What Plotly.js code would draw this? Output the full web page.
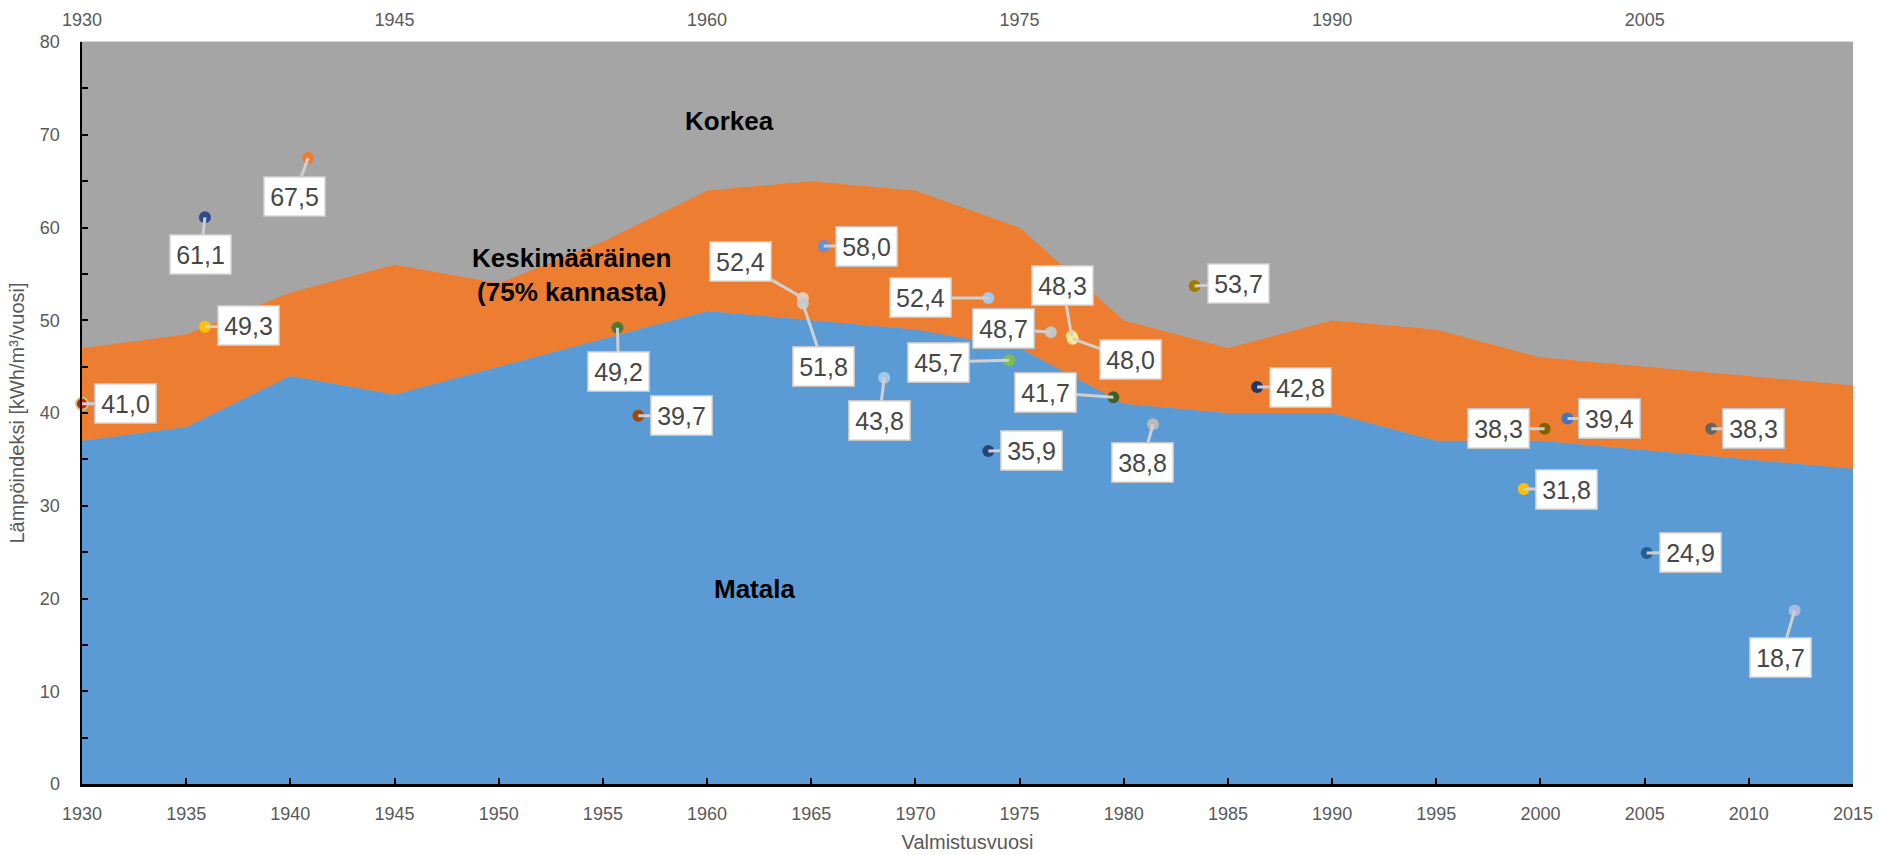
<!DOCTYPE html>
<html>
<head>
<meta charset="utf-8">
<script src="https://cdn.plot.ly/plotly-3.0.1.min.js"></script>
<style>html,body{margin:0;padding:0;background:#fff;}#chart{width:1879px;height:855px;}</style>
</head>
<body>
<div id="chart"></div>
<script>
// ---- data ----
const vuodet = [1930,1935,1940,1945,1950,1955,1960,1965,1970,1975,1980,1985,1990,1995,2000,2005,2010,2015];
const matala = [37,38.5,44,42,45,48,51,50,49,47,41,40,40,37,37,36,35,34];            // Matala upper bound
const keskimaarainenYla = [47,48.5,53,56,54,58.5,64,65,64,60,50,47,50,49,46,45,44,43]; // Keskimääräinen upper bound
const korkeaYla = [80,80,80,80,80,80,80,80,80,80,80,80,80,80,80,80,80,80];            // Korkea upper bound (axis top)

const pisteVuodet = [1930,1935.9,1940.85,1935.9,1955.7,1956.7,1964.6,1964.6,1965.6,1968.5,1973.5,1974.5,1973.5,1976.5,1977.5,1977.55,1979.5,1981.4,1983.4,1986.4,2000.2,2001.3,1999.2,2005.1,2008.2,2012.2];
const pisteArvot = [41.0,61.1,67.5,49.3,49.2,39.7,52.4,51.8,58.0,43.8,52.4,45.7,35.9,48.7,48.3,48.0,41.7,38.8,53.7,42.8,38.3,39.4,31.8,24.9,38.3,18.7];
const pisteVarit = ['#FF0000','#2E4C8C','#ED7D31','#FFC000','#4E7A32','#9E480E','#F6C8AA','#C9C9C9','#698ED0','#A4C8EA','#A4C8EA','#7DBE4E','#264478','#C4C4C4','#FFD966','#FFE699','#3E6226','#B8B8B8','#A07A00','#203864','#806000','#4472C4','#FFC000','#255E91','#636363','#A9BCE0'];
const pisteReunat = ['#A9D18E'];

// ---- label layout (pixel offsets of callouts, not data) ----
const calloutOffsets = [[43,0],[-4,37],[-14,39],[44,-1],[1,44],[43,0],[-62,-36],[21,63],[43,0],[-5,43],[-68,0],[-71,2],[43,-1],[-47,-4],[-9,-51],[58,21],[-68,-5],[-10,38],[44,-2],[43,0],[-46,0],[42,0],[43,0],[44,-1],[42,0],[-14,47]];

const FONT = '"Liberation Sans", Arial, sans-serif';
const fmt = v => v.toFixed(1).replace('.', ',');

const traces = [
  {x: vuodet, y: matala, type:'scatter', mode:'lines', line:{width:0, color:'#5B9BD5'}, fill:'tozeroy', fillcolor:'#5B9BD5', name:'Matala', hoverinfo:'skip'},
  {x: vuodet, y: keskimaarainenYla, type:'scatter', mode:'lines', line:{width:0, color:'#ED7D31'}, fill:'tonexty', fillcolor:'#ED7D31', name:'Keskimääräinen', hoverinfo:'skip'},
  {x: vuodet, y: korkeaYla, type:'scatter', mode:'lines', line:{width:0, color:'#A5A5A5'}, fill:'tonexty', fillcolor:'#A5A5A5', name:'Korkea', hoverinfo:'skip'},
  {x: pisteVuodet, y: pisteArvot, type:'scatter', mode:'markers', cliponaxis:false,
   marker:{size:12, color:pisteVarit, line:{width:pisteVarit.map((c,i)=> i===0?2:0), color:pisteVarit.map((c,i)=> i===0?pisteReunat[0]:c)}}, name:'pisteet'},
  {x: vuodet, y: matala, type:'scatter', mode:'none', xaxis:'x2', hoverinfo:'skip', showlegend:false}
];

const annotations = pisteArvot.map((v,i)=>({
  x: pisteVuodet[i], y: v, xref:'x', yref:'y',
  text: fmt(v), showarrow:true, arrowhead:0, arrowwidth:3, arrowcolor:'#D0D0D0', standoff:0,
  ax: calloutOffsets[i][0], ay: calloutOffsets[i][1],
  bgcolor:'#FFFFFF', bordercolor:'#C6C6C6', borderwidth:1.5, borderpad:5,
  width:50, height:28,
  font:{family:FONT, size:25, color:'#474747'}
}));

annotations.push(
  {x:1961.1, y:71.5, xref:'x', yref:'y', text:'<b>Korkea</b>', showarrow:false, font:{family:FONT, size:26, color:'#000'}},
  {x:1953.5, y:54.9, xref:'x', yref:'y', text:'<b>Keskimääräinen<br>(75% kannasta)</b>', showarrow:false, font:{family:FONT, size:26, color:'#000'}},
  {x:1962.3, y:21.0, xref:'x', yref:'y', text:'<b>Matala</b>', showarrow:false, font:{family:FONT, size:26, color:'#000'}}
);

const layout = {
  width:1879, height:855,
  margin:{l:82, r:26, t:42, b:71},
  paper_bgcolor:'#FFFFFF', plot_bgcolor:'#A5A5A5',
  showlegend:false,
  font:{family:FONT, color:'#595959'},
  xaxis:{range:[1930,2015], tick0:1930, dtick:5, ticks:'inside', ticklen:6, tickwidth:2, tickcolor:'#000',
         showline:true, linecolor:'#000', linewidth:2.5, showgrid:false, zeroline:false,
         tickfont:{family:FONT, size:18, color:'#595959'}, ticklabelstandoff:12,
         title:{text:'Valmistusvuosi', font:{family:FONT, size:20, color:'#595959'}, standoff:12}},
  xaxis2:{range:[1930,2015], tick0:1930, dtick:15, overlaying:'x', side:'top', ticks:'',
          showline:true, linecolor:'#D9D9D9', linewidth:1, showgrid:false, zeroline:false,
          tickfont:{family:FONT, size:18, color:'#595959'}, ticklabelstandoff:8},
  yaxis:{range:[0,80], tick0:0, dtick:10, ticks:'inside', ticklen:6, tickwidth:2, tickcolor:'#000',
         minor:{dtick:5, ticks:'inside', ticklen:6, tickwidth:2, tickcolor:'#000'},
         showline:true, linecolor:'#000', linewidth:2.5, showgrid:false, zeroline:false,
         tickfont:{family:FONT, size:18, color:'#595959'}, ticklabelstandoff:16,
         title:{text:'Lämpöindeksi [kWh/m³/vuosi]', font:{family:FONT, size:20, color:'#595959'}, standoff:10}},
  annotations: annotations
};

Plotly.newPlot('chart', traces, layout, {staticPlot:true, displayModeBar:false});
</script>
</body>
</html>
